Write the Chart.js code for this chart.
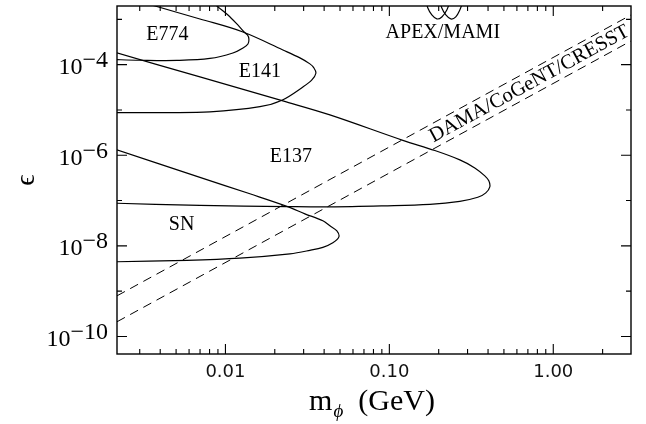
<!DOCTYPE html>
<html>
<head>
<meta charset="utf-8">
<script src="https://cdn.jsdelivr.net/npm/chart.js@4.4.1/dist/chart.umd.min.js"></script>
<style>html,body{margin:0;padding:0;background:#fff}</style>
</head>
<body>
<canvas id="c" width="646" height="424"></canvas>
<script>
// limiti degli assi: massa m_phi (GeV) e accoppiamento epsilon
const X_MIN = 0.00218, X_MAX = 2.98;
const Y_MIN = 4.1e-11, Y_MAX = 1.97e-3;
const X_LABELS = [0.01, 0.1, 1];
const X_LABEL_TEXT = ['0.01', '0.10', '1.00'];
const Y_DECADES = [-10, -9, -8, -7, -6, -5, -4, -3];
const Y_LABELS = [-10, -8, -6, -4];

// contorni esclusi
const e774X = [0.0020, 0.00301, 0.00506, 0.00804, 0.0111, 0.0128, 0.01372, 0.0139, 0.01362, 0.0130, 0.0119, 0.01036, 0.00887, 0.00816];
const e774Y = [1.30e-4, 1.25e-4, 1.24e-4, 1.37e-4, 1.81e-4, 2.33e-4, 2.86e-4, 3.69e-4, 4.52e-4, 5.26e-4, 7.52e-4, 1.25e-3, 1.97e-3, 2.67e-3];

const e141X = [0.0020, 0.0040, 0.00804, 0.01623, 0.02211, 0.0297, 0.03368, 0.03563, 0.03464, 0.03275, 0.02847, 0.02242, 0.01279, 0.00699, 0.00372, 0.00301];
const e141Y = [8.7e-6, 8.75e-6, 9.05e-6, 1.18e-5, 1.64e-5, 3.22e-5, 4.60e-5, 6.46e-5, 8.46e-5, 1.04e-4, 1.41e-4, 2.11e-4, 5.26e-4, 1.02e-3, 1.97e-3, 2.48e-3];

const e137X = [0.0020, 0.00699, 0.02371, 0.04338, 0.0913, 0.1766, 0.2691, 0.3464, 0.3877, 0.4101,
               0.4044, 0.3823, 0.3321, 0.2691, 0.1895, 0.1209, 0.04338, 0.02242, 0.00699, 0.0020];
const e137Y = [8.8e-8, 7.83e-8, 7.37e-8, 7.26e-8, 7.64e-8, 8.24e-8, 9.60e-8, 1.18e-7, 1.48e-7, 2.01e-7,
               2.72e-7, 3.51e-7, 5.26e-7, 7.90e-7, 1.27e-6, 2.13e-6, 7.77e-6, 1.58e-5, 5.36e-5, 1.98e-4];

const snX = [0.0020, 0.00582, 0.01226, 0.02473, 0.03275, 0.0393, 0.04523, 0.04921,
             0.04786, 0.04338, 0.0393, 0.03054, 0.02371, 0.0141, 0.00699, 0.0020];
const snY = [4.43e-9, 4.79e-9, 5.36e-9, 6.67e-9, 7.96e-9, 9.28e-9, 1.17e-8, 1.58e-8,
             2.14e-8, 2.77e-8, 3.57e-8, 5.09e-8, 7.45e-8, 1.41e-7, 3.25e-7, 1.46e-6];

const apexX = [0.1670, 0.1717, 0.1816, 0.1949, 0.2090, 0.2242, 0.2338, 0.2371];
const apexY = [2.67e-3, 1.78e-3, 1.25e-3, 1.02e-3, 1.13e-3, 1.61e-3, 2.41e-3, 2.67e-3];
const mamiX = [0.2032, 0.2090, 0.2211, 0.2371, 0.2543, 0.2691, 0.2807, 0.2847];
const mamiY = [2.67e-3, 1.78e-3, 1.25e-3, 1.02e-3, 1.13e-3, 1.61e-3, 2.41e-3, 2.67e-3];

// banda DAMA/CoGeNT/CRESST (due rette tratteggiate)
const damaX = [0.00218, 2.98];
const damaAltoY = [7.89e-10, 1.25e-3];
const damaBassoY = [2.11e-10, 3.33e-4];

// etichette: testo e posizione in coordinate dati
const ETICHETTE = ['E774', 'E141', 'E137', 'SN', 'APEX/MAMI'];
const ETICHETTE_X = [0.00443, 0.01623, 0.02508, 0.0054, 0.2119];
const ETICHETTE_Y = [4.52e-4, 7.01e-5, 9.34e-7, 2.91e-8, 5.0e-4];
const DAMA_TESTO = 'DAMA/CoGeNT/CRESST';
const DAMA_POS = [0.715, 3.75e-5];

const xTicks = [];
for (let d = -3; d <= 0; d++) for (let k = 1; k <= 9; k++) {
  const v = k * Math.pow(10, d);
  if (v >= X_MIN && v <= X_MAX) xTicks.push(v);
}
const isMajorX = v => X_LABELS.some(m => Math.abs(m - v) / m < 1e-6);

const curva = (xs, ys, dash) => ({
  data: xs.map((x, i) => ({ x, y: ys[i] })),
  borderColor: '#000', borderWidth: dash ? 1 : 1.2, borderDash: dash ? [9, 6] : [],
  pointRadius: 0, tension: dash ? 0 : 0.35, fill: false
});

const cornice = {
  id: 'cornice',
  afterDatasetsDraw(chart) {
    const { ctx, chartArea: a, scales: { x, y } } = chart;
    ctx.save();
    ctx.strokeStyle = '#000';
    ctx.fillStyle = '#000';
    ctx.lineWidth = 1.4;
    ctx.strokeRect(a.left, a.top, a.right - a.left, a.bottom - a.top);

    ctx.lineWidth = 1.1;
    ctx.beginPath();
    xTicks.forEach(v => {
      const px = x.getPixelForValue(v);
      const len = isMajorX(v) ? 10 : 5;
      ctx.moveTo(px, a.bottom); ctx.lineTo(px, a.bottom - len);
      ctx.moveTo(px, a.top); ctx.lineTo(px, a.top + len);
    });
    Y_DECADES.forEach(d => {
      const py = y.getPixelForValue(Math.pow(10, d));
      const len = Y_LABELS.includes(d) ? 10 : 5;
      ctx.moveTo(a.left, py); ctx.lineTo(a.left + len, py);
      ctx.moveTo(a.right, py); ctx.lineTo(a.right - len, py);
    });
    ctx.stroke();

    // etichette asse y con esponente
    ctx.font = '24px "Liberation Serif"';
    ctx.textBaseline = 'alphabetic';
    ctx.textAlign = 'right';
    Y_LABELS.forEach(d => {
      const py = y.getPixelForValue(Math.pow(10, d));
      const esp = '\u2212' + Math.abs(d);
      const xr = a.left - 9;
      ctx.fillText(esp, xr, py + 2.3);
      const w = ctx.measureText(esp).width;
      ctx.fillText('10', xr - w, py + 9.5);
    });

    // titolo asse x con pedice
    const base = 410;
    ctx.textAlign = 'left';
    ctx.font = '30px "Liberation Serif"';
    const wm = ctx.measureText('m').width;
    const wr = ctx.measureText('  (GeV)').width;
    ctx.font = 'italic 19px "Liberation Serif"';
    const wp = ctx.measureText('\u03D5').width;
    let x0 = (a.left + a.right) / 2 - 2.5 - (wm + wp + wr) / 2;
    ctx.font = '30px "Liberation Serif"';
    ctx.fillText('m', x0, base);
    ctx.font = 'italic 19px "Liberation Serif"';
    ctx.fillText('\u03D5', x0 + wm + 1, base + 7);
    ctx.font = '30px "Liberation Serif"';
    ctx.fillText('  (GeV)', x0 + wm + wp + 1, base);

    // etichette delle regioni
    ctx.font = '20px "Liberation Serif"';
    ctx.textAlign = 'center';
    ctx.textBaseline = 'middle';
    ETICHETTE.forEach((t, i) => {
      ctx.fillText(t, x.getPixelForValue(ETICHETTE_X[i]), y.getPixelForValue(ETICHETTE_Y[i]));
    });

    const x1 = x.getPixelForValue(damaX[0]), x2 = x.getPixelForValue(damaX[1]);
    const y1 = y.getPixelForValue(damaAltoY[0]), y2 = y.getPixelForValue(damaAltoY[1]);
    ctx.font = '20.5px "Liberation Serif"';
    ctx.translate(x.getPixelForValue(DAMA_POS[0]), y.getPixelForValue(DAMA_POS[1]));
    ctx.rotate(Math.atan2(y2 - y1, x2 - x1));
    ctx.fillText(DAMA_TESTO, 0, 0);
    ctx.restore();
  }
};

new Chart(document.getElementById('c'), {
  type: 'line',
  data: {
    datasets: [
      curva(e774X, e774Y), curva(e141X, e141Y), curva(e137X, e137Y), curva(snX, snY),
      curva(apexX, apexY), curva(mamiX, mamiY),
      curva(damaX, damaAltoY, true), curva(damaX, damaBassoY, true)
    ]
  },
  options: {
    responsive: false,
    animation: false,
    layout: { padding: { left: 0, top: 6, right: 15, bottom: 0 } },
    plugins: { legend: { display: false }, tooltip: { enabled: false } },
    scales: {
      x: {
        type: 'logarithmic', min: X_MIN, max: X_MAX,
        grid: { display: false, drawTicks: false }, border: { display: false },
        afterBuildTicks: s => { s.ticks = xTicks.map(v => ({ value: v })); },
        afterFit: s => { s.height = 70; },
        ticks: {
          autoSkip: false, maxRotation: 0, padding: 8, color: '#111',
          font: { family: 'DejaVu Sans', size: 18 },
          callback: v => { const i = X_LABELS.findIndex(m => Math.abs(m - v) / m < 1e-6); return i < 0 ? '' : X_LABEL_TEXT[i]; }
        }
      },
      y: {
        type: 'logarithmic', min: Y_MIN, max: Y_MAX,
        grid: { display: false, drawTicks: false }, border: { display: false },
        ticks: { display: false },
        afterFit: s => { s.width = 117; },
        title: { display: true, text: '\u03F5', color: '#000', padding: { top: 10, bottom: 0 }, font: { family: 'Liberation Serif', size: 28 } }
      }
    }
  },
  plugins: [cornice]
});
</script>
</body>
</html>
